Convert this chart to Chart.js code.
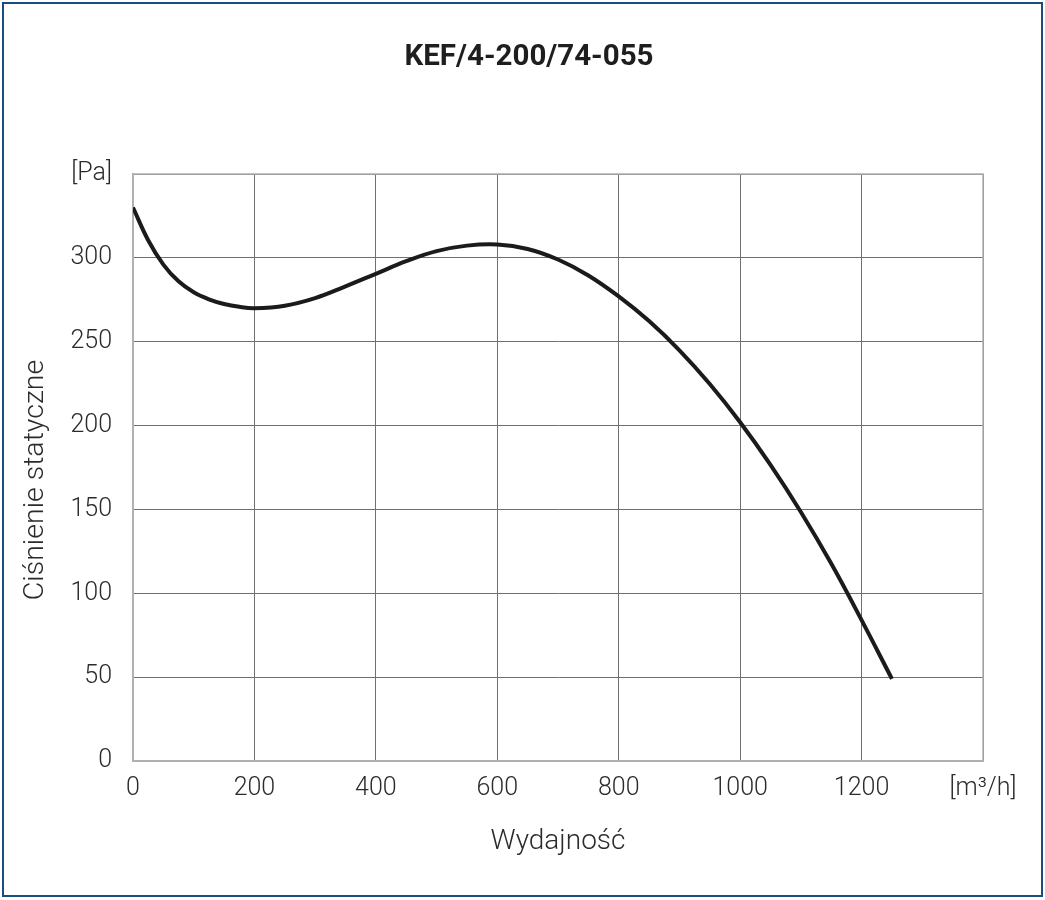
<!DOCTYPE html>
<html>
<head>
<meta charset="utf-8">
<script src="https://cdn.jsdelivr.net/npm/chart.js@4"></script>
<style>
  html, body { margin: 0; padding: 0; background: #fff; }
  #wrap { position: relative; width: 1045px; height: 900px; }
  #frame {
    position: absolute; left: 2px; top: 2px; width: 1041px; height: 895px;
    box-sizing: border-box; border: 2px solid #1b4c80; pointer-events: none;
  }
  canvas { position: absolute; left: 0; top: 0; }
</style>
</head>
<body>
<div id="wrap">
  <canvas id="chart" width="1045" height="900"></canvas>
  <div id="frame"></div>
</div>
<script>
// fan curve
var flow = [0, 25, 50, 75, 100, 125, 150, 175, 200, 250, 300, 350, 400, 450, 500, 550, 600, 650,
            700, 750, 800, 850, 900, 950, 1000, 1050, 1100, 1150, 1200, 1250];
var pressure = [330, 310.5, 296, 286, 279.5, 275.3, 272.5, 270.8, 270, 271.5, 276, 283, 290.5, 298, 304, 307.3, 308, 305.3,
                299, 289.5, 277, 262.3, 244.9, 224.8, 202, 176.6, 148.5, 117.7, 84, 49];

var xTicks = [0, 200, 400, 600, 800, 1000, 1200, 1400];
var yTicks = [0, 50, 100, 150, 200, 250, 300, 350];
var xUnit = '[m³/h]';
var yUnit = '[Pa]';
var chartTitle = 'KEF/4-200/74-055';
var yTitle = 'Ciśnienie statyczne';

var points = [];
for (var i = 0; i < flow.length; i++) {
  points.push({ x: flow[i], y: pressure[i] });
}

var tickFont = { family: 'Roboto', size: 25, weight: '300' };
var axisFont = { family: 'Roboto', size: 28, weight: '300' };
var textColor = '#2b2b2b';

new Chart(document.getElementById('chart').getContext('2d'), {
  type: 'line',
  data: {
    datasets: [{
      data: points,
      borderColor: '#1c1a1b',
      borderWidth: 4,
      pointRadius: 0,
      fill: false,
      tension: 0.4
    }]
  },
  options: {
    responsive: false,
    animation: false,
    layout: { padding: { left: 0, right: 62, top: 174, bottom: 0 } },
    plugins: {
      legend: { display: false },
      tooltip: { enabled: false },
      title: { display: false }
    },
    scales: {
      x: {
        type: 'linear',
        min: 0,
        max: 1400,
        afterBuildTicks: function (scale) {
          scale.ticks = xTicks.map(function (v) { return { value: v }; });
        },
        afterFit: function (scale) { scale.height = 139; },
        ticks: {
          padding: 13,
          color: textColor,
          font: tickFont,
          maxRotation: 0,
          callback: function (v) { return v === 1400 ? xUnit : v; }
        },
        grid: { color: '#707070', lineWidth: 1, drawTicks: false },
        border: { color: '#b0b0b0', width: 2 },
        title: {
          display: true,
          text: 'Wydajność',
          color: textColor,
          font: axisFont,
          padding: { top: 0, bottom: 41 }
        }
      },
      y: {
        type: 'linear',
        min: 0,
        max: 350,
        afterBuildTicks: function (scale) {
          scale.ticks = yTicks.map(function (v) { return { value: v }; });
        },
        afterFit: function (scale) { scale.width = 133; },
        ticks: {
          padding: 21,
          color: textColor,
          font: tickFont,
          callback: function (v) { return v === 350 ? yUnit : v; }
        },
        grid: { color: '#707070', lineWidth: 1, drawTicks: false },
        border: { color: '#b0b0b0', width: 2 },
        title: { display: false }
      }
    }
  },
  plugins: [{
    // plot frame on the right and top, the chart title centred on the page,
    // and the y axis title sitting a bit below the plot's middle like the original
    id: 'frameAndTitles',
    afterDraw: function (chart) {
      var a = chart.chartArea, c = chart.ctx;
      c.save();
      c.strokeStyle = '#b0b0b0';
      c.lineWidth = 1.5;
      c.beginPath();
      c.moveTo(a.left, a.top);
      c.lineTo(a.right, a.top);
      c.lineTo(a.right, a.bottom);
      c.stroke();

      c.fillStyle = '#1e1e1e';
      c.font = 'bold 29.5px Roboto';
      c.textAlign = 'center';
      c.textBaseline = 'alphabetic';
      c.fillText(chartTitle, 529, 65);

      c.fillStyle = textColor;
      c.font = '300 28.5px Roboto';
      c.textBaseline = 'middle';
      c.translate(36, 480);
      c.rotate(-Math.PI / 2);
      c.fillText(yTitle, 0, 0);
      c.restore();
    }
  }]
});
</script>
</body>
</html>
